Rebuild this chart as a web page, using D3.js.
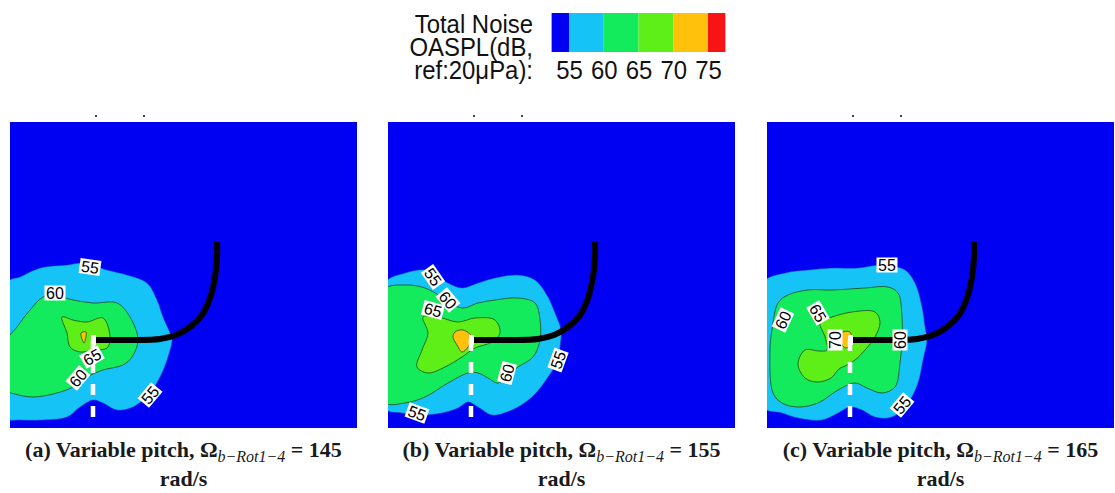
<!DOCTYPE html>
<html lang="en">
<head>
<meta charset="UTF-8">
<title>Total noise OASPL contours</title>
<style>
  body { margin: 0; background: #fff; }
  svg { display: block; font-family: "Liberation Sans", Arial, sans-serif; }
</style>
</head>
<body>
<div id="chart"></div>
<script src="https://cdn.jsdelivr.net/npm/d3@7/dist/d3.min.js"></script>
<script>
// contour levels (dB) and band colours (below 55 ... above 75)
const levels = [55, 60, 65, 70, 75];
const bandColors = ["#0000f2", "#16c3f7", "#13eb5d", "#5eee18", "#ffc10c", "#f81414"];
const rotorSpeeds = [145, 155, 165];
const panelTags = ["a", "b", "c"];
const legendTitle = ["Total Noise", "OASPL(dB,", "ref:20\u03bcPa):"];

// contour outlines, in grid units (x 0-347, y 0-306, y down)
const a55 = [[-4,161],[10,155],[30,146],[57,143],[73,141],[97,148],[117,153],[137,161],[147,178],[153,195],[160,211],[162,218],[157,238],[150,255],[140,271],[123,285],[107,288],[93,281],[83,278],[70,285],[57,295],[33,298],[10,298],[-4,296]];
const a60 = [[-4,220],[7,205],[20,188],[33,175],[43,173],[63,178],[83,181],[107,181],[120,195],[128,218],[122,235],[113,243],[93,248],[77,255],[63,265],[47,271],[23,275],[5,272],[-4,268]];
const a65 = [[52,195],[63,198],[77,200],[93,196],[100,215],[97,226],[83,228],[70,230],[60,225],[57,211]];
const a70 = [[71,211],[76,210],[74,221]];

const b55 = [[-4,162],[17,151],[37,148],[45,152],[60,161],[74,166],[90,161],[107,156],[130,153],[147,158],[160,175],[167,191],[173,208],[172,225],[170,238],[158,258],[144,275],[124,288],[104,293],[90,285],[80,280],[70,286],[54,291],[34,293],[14,291],[-4,286]];
const b60 = [[-4,168],[17,163],[37,166],[54,175],[74,186],[90,181],[107,178],[130,176],[147,181],[152,198],[152,218],[145,235],[130,245],[120,253],[110,261],[100,256],[90,251],[80,251],[60,261],[37,275],[17,281],[-4,280]];
const b65 = [[35,195],[50,195],[70,200],[87,196],[107,198],[112,211],[104,220],[87,226],[74,235],[57,245],[40,251],[29,245],[34,228],[40,211]];
const b70 = [[67,210],[75,208],[84,215],[80,225],[74,230],[69,223],[65,215]];

const c55 = [[-4,161],[18,151],[41,148],[65,146],[91,146],[115,143],[138,148],[148,161],[155,185],[158,205],[160,218],[156,238],[151,261],[141,281],[125,295],[108,295],[95,288],[83,285],[71,291],[55,298],[31,296],[15,291],[-4,285]];
const c60 = [[5,208],[11,181],[21,173],[41,168],[65,168],[98,166],[121,165],[131,171],[135,195],[135,218],[133,241],[128,265],[115,271],[100,266],[88,261],[71,268],[51,281],[31,285],[15,281],[6,271],[3,228]];
const c65 = [[53,200],[65,195],[85,190],[108,190],[113,200],[108,215],[98,228],[88,238],[80,243],[72,247],[64,256],[50,260],[38,256],[31,242],[38,228],[52,229],[60,228],[58,215]];
const c70 = [[74,211],[83,210],[84,222],[78,226],[74,220]];

// inline contour labels: value, x, y, angle
const aLabels = [["55",80,145,8],["60",45,171,0],["65",82,235,-30],["60",68,256,-50],["55",140,273,-50]];
const bLabels = [["55",45,155,55],["60",60,178,50],["65",45,188,15],["60",119,251,-75],["55",170,238,-70],["55",29,291,20]];
const cLabels = [["55",120,143,0],["60",16,198,-65],["65",51,191,60],["70",68,218,-90],["60",133,218,-90],["55",135,283,-50]];

// rotor arm (black) and shaft (white dashed)
const armLine = [[85,218],[120,218],[150,217],[166,213],[180,205],[192,193],[200,176],[205,155],[207,135],[207,120]];
const shaftLine = [[83,218],[83,306]];
const topTicks = [86, 134];

const panels = [
  {bands: [a55, a60, a65, a70], labels: aLabels},
  {bands: [b55, b60, b65, b70], labels: bLabels},
  {bands: [c55, c60, c65, c70], labels: cLabels}
];

const W = 1115, H = 493;
const panelLeft = [10, 388, 767], panelTop = 122, panelW = 347, panelH = 306;
const serif = "'Liberation Serif', 'Times New Roman', serif";
const squeeze = 0.92; // legend font is a bit narrower than Arial

const svg = d3.select("#chart").append("svg").attr("width", W).attr("height", H);

const x = d3.scaleLinear().domain([0, 347]).range([0, panelW]);
const y = d3.scaleLinear().domain([0, 306]).range([0, panelH]);

const area = d3.line().x(d => x(d[0])).y(d => y(d[1])).curve(d3.curveCatmullRomClosed.alpha(0.5));
const path = d3.line().x(d => x(d[0])).y(d => y(d[1])).curve(d3.curveCatmullRom.alpha(0.5));

panels.forEach((p, i) => {
    const g = svg.append("g").attr("transform", `translate(${panelLeft[i]},${panelTop})`);

    g.append("clipPath").attr("id", "clip" + i)
        .append("rect").attr("width", panelW).attr("height", panelH);

    // small tick marks above the frame
    g.selectAll("rect.tick").data(topTicks).join("rect")
        .attr("class", "tick")
        .attr("x", d => x(d) - 1).attr("y", -7)
        .attr("width", 2).attr("height", 2)
        .attr("fill", "#444");

    const body = g.append("g").attr("clip-path", `url(#clip${i})`);
    body.append("rect").attr("width", panelW).attr("height", panelH).attr("fill", bandColors[0]);

    body.selectAll("path.band").data(p.bands).join("path")
        .attr("class", "band")
        .attr("d", area)
        .attr("fill", (d, k) => bandColors[k + 1])
        .attr("stroke", (d, k) => k === 0 ? "#0f3fd8" : "#1d4a1d")
        .attr("stroke-width", (d, k) => k === 0 ? 0.5 : 0.8);

    body.append("path").datum(shaftLine)
        .attr("d", path)
        .attr("fill", "none")
        .attr("stroke", "#fff")
        .attr("stroke-width", 4.5)
        .attr("stroke-dasharray", "11,11");

    body.append("path").datum(armLine)
        .attr("d", path)
        .attr("fill", "none")
        .attr("stroke", "#000")
        .attr("stroke-width", 6);

    // hub marker
    body.append("rect")
        .attr("x", x(armLine[0][0]) - 4).attr("y", y(armLine[0][1]) - 5)
        .attr("width", 5).attr("height", 10)
        .attr("fill", "#fff");

    const lab = body.selectAll("g.lab").data(p.labels).join("g")
        .attr("class", "lab")
        .attr("transform", d => `translate(${x(d[1])},${y(d[2])}) rotate(${d[3]})`);
    lab.append("rect")
        .attr("x", -10.5).attr("y", -7.5).attr("width", 21).attr("height", 15)
        .attr("fill", "#fff");
    lab.append("text")
        .attr("text-anchor", "middle")
        .attr("dy", "0.36em")
        .attr("font-size", 16)
        .attr("fill", "#000")
        .text(d => d[0]);

    // caption
    const cap = svg.append("text")
        .attr("x", panelLeft[i] + panelW / 2)
        .attr("y", 457)
        .attr("text-anchor", "middle")
        .attr("font-family", serif)
        .attr("font-weight", "bold")
        .attr("font-size", 22)
        .attr("fill", "#1a1a1a");
    cap.append("tspan").text(`(${panelTags[i]}) Variable pitch, Ω`);
    cap.append("tspan").attr("font-style", "italic").attr("font-weight", "normal")
        .attr("font-size", 16).attr("dy", 5).text("b−Rot1−4");
    cap.append("tspan").attr("dy", -5).text(` = ${rotorSpeeds[i]}`);
    svg.append("text")
        .attr("x", panelLeft[i] + panelW / 2)
        .attr("y", 486)
        .attr("text-anchor", "middle")
        .attr("font-family", serif)
        .attr("font-weight", "bold")
        .attr("font-size", 22)
        .attr("fill", "#1a1a1a")
        .text("rad/s");
});

// colour legend
const cb = d3.scaleLinear().domain([55, 75]).range([569, 708]);
const bandLo = k => k === 0 ? levels[0] - 2.5 : levels[k - 1];
const bandHi = k => k === levels.length ? levels[k - 1] + 2.5 : levels[k];
const legend = svg.append("g");
legend.selectAll("rect").data(bandColors).join("rect")
    .attr("x", (d, k) => cb(bandLo(k)))
    .attr("y", 13)
    .attr("width", (d, k) => cb(bandHi(k)) - cb(bandLo(k)))
    .attr("height", 39)
    .attr("fill", d => d);

const cbAxis = legend.append("g").attr("transform", "translate(0,61)")
    .call(d3.axisBottom(cb).tickValues(levels).tickSize(0).tickPadding(0));
cbAxis.select(".domain").remove();
cbAxis.selectAll("text")
    .attr("font-size", 26)
    .attr("font-family", "'Liberation Sans', Arial, sans-serif")
    .attr("fill", "#111")
    .attr("transform", `scale(${squeeze},1)`);

legend.append("g").attr("transform", `scale(${squeeze},1)`)
    .selectAll("text.title").data(legendTitle).join("text")
    .attr("class", "title")
    .attr("x", 533 / squeeze)
    .attr("y", (d, k) => 33 + k * 23)
    .attr("text-anchor", "end")
    .attr("font-size", 26)
    .attr("fill", "#111")
    .text(d => d);
</script>
</body>
</html>
